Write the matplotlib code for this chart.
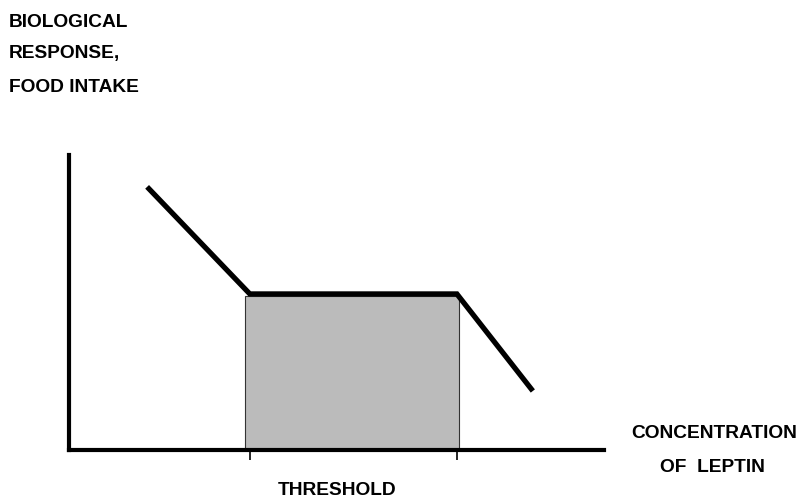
import matplotlib
matplotlib.use("Agg")
import matplotlib.pyplot as plt
from matplotlib.patches import Rectangle

plt.rcParams['font.family'] = ['Liberation Sans', 'DejaVu Sans']

# response curve (concentration vs response, arbitrary units 0..100)
conc = [14.6, 33.8, 72.5, 86.7]
response = [89.2, 52.9, 52.9, 20.0]

# shaded threshold band
band_x = [32.9, 72.9]
band_top = 52.2

threshold_ticks = [33.8, 72.5]

ylabel_lines = ["BIOLOGICAL", "RESPONSE,", "FOOD INTAKE"]
xlabel_lines = ["CONCENTRATION", "OF  LEPTIN"]
band_label = "THRESHOLD"

W, H = 800, 499
fig = plt.figure(figsize=(W / 100, H / 100), dpi=100)
ax = fig.add_axes([69 / W, (H - 450) / H, 535 / W, 295 / H])
ax.set_xlim(0, 100)
ax.set_ylim(0, 100)

ax.add_patch(Rectangle((band_x[0], 0), band_x[1] - band_x[0], band_top,
                       facecolor="#bbbbbb", edgecolor="#333333", lw=0.8,
                       zorder=1))
ax.plot(conc, response, color="black", lw=3.8, solid_capstyle="butt",
        solid_joinstyle="miter", zorder=3, clip_on=False)

for s in ["top", "right"]:
    ax.spines[s].set_visible(False)
for s in ["left", "bottom"]:
    ax.spines[s].set_linewidth(3)
    ax.spines[s].set_zorder(4)

ax.set_xticks(threshold_ticks)
ax.set_xticklabels([])
ax.tick_params(axis="x", direction="out", length=7.5, width=1.2)
ax.set_yticks([])

# labels placed in pixel positions (y = baseline)
def px_text(x, y, s, ha="left"):
    fig.text(x / W, 1 - y / H, s, ha=ha, va="baseline", fontsize=13.8,
             fontweight="bold")

for line, y in zip(ylabel_lines, [27, 58, 92]):
    px_text(9, y, line)
px_text(714, 438, xlabel_lines[0], ha="center")
px_text(712, 472, xlabel_lines[1], ha="center")
px_text(337, 495, band_label, ha="center")

fig.savefig("out.png", dpi=100)
